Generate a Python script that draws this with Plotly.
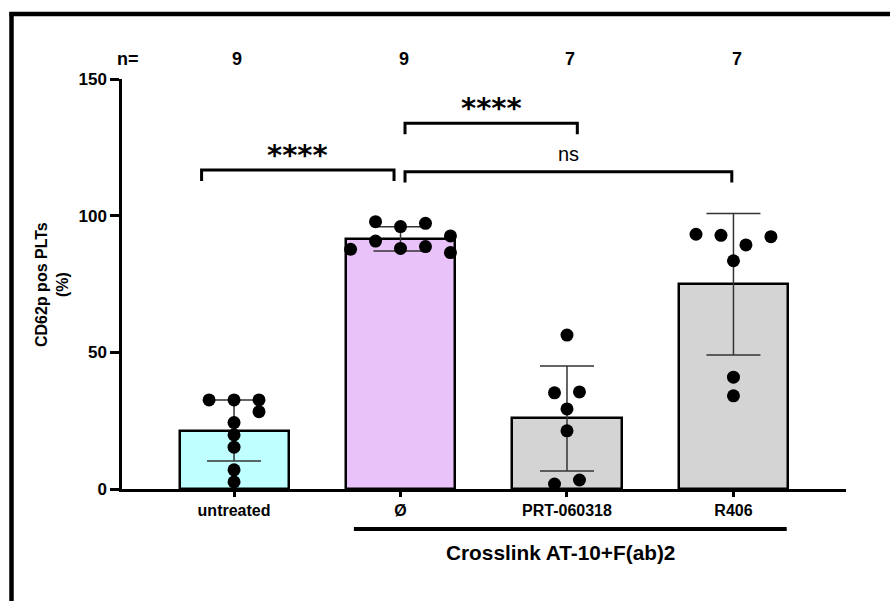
import plotly.graph_objects as go

# ---------------- data ----------------
categories = ["untreated", "Ø", "PRT-060318", "R406"]
n_counts = [9, 9, 7, 7]
bar_means = [21.4, 91.5, 25.8, 74.9]
bar_sd = [11.2, 4.4, 19.2, 25.9]

vals_untreated = [32.6, 32.6, 32.6, 28.3, 24.3, 19.8, 15.3, 7.0, 2.6]
vals_none = [97.8, 96.0, 97.2, 90.7, 87.7, 88.0, 88.7, 92.6, 86.5]
vals_prt = [56.3, 35.2, 35.5, 29.3, 21.3, 1.8, 3.3]
vals_r406 = [93.2, 92.8, 89.3, 92.3, 83.5, 40.9, 34.1]
group_values = [vals_untreated, vals_none, vals_prt, vals_r406]

# swarm slots (layout of dots within a column, in dot-spacing units)
slots_untreated = [-1, 0, 1, 1, 0, 0, 0, 0, 0]
slots_none = [-1, 0, 1, -1, -2, 0, 1, 2, 2]
slots_prt = [0, -0.5, 0.5, 0, 0, -0.5, 0.5]
slots_r406 = [-1.5, -0.5, 0.5, 1.5, 0, 0, 0]
group_slots = [slots_untreated, slots_none, slots_prt, slots_r406]

comparisons = [("****", 0, 1), ("****", 1, 2), ("ns", 1, 3)]
group_label = "Crosslink AT-10+F(ab)2"
y_title = "CD62p pos PLTs<br>(%)"
y_ticks = [0, 50, 100, 150]

# ---------------- style ----------------
FONT = "Arial, Liberation Sans, sans-serif"
bar_colors = ["#C0FFFF", "#E8C2F8", "#D4D4D4", "#D4D4D4"]
W, H = 890, 601
L, R, T, B = 122, 44, 79, 112
PW, PH = W - L - R, H - T - B
slot_unit = 0.15


def pxx(px):
    return (px - L) / PW


def pxy(py):
    return (H - B - py) / PH


fig = go.Figure()

xs = list(range(len(categories)))
fig.add_trace(go.Bar(
    x=xs, y=bar_means, width=0.655,
    marker=dict(color=bar_colors, line=dict(color="black", width=2.5)),
    error_y=dict(type="data", array=bar_sd, visible=True,
                 color="#333333", thickness=1.5, width=27),
    showlegend=False, hoverinfo="skip",
))

for i, (vals, slots) in enumerate(zip(group_values, group_slots)):
    fig.add_trace(go.Scatter(
        x=[i + s * slot_unit for s in slots], y=vals, mode="markers",
        marker=dict(color="black", size=13, line=dict(width=0)),
        showlegend=False, hoverinfo="skip", cliponaxis=False,
    ))

# significance brackets
bracket_ends = [(-0.195, 0.961), (1.027, 2.062), (1.027, 2.99)]
bracket_y = [116.7, 133.8, 116.1]
bracket_drop = 4.0
for (label, a, b), (x0, x1), yb in zip(comparisons, bracket_ends, bracket_y):
    xa = a + (x0 - round(x0))
    xb = b + (x1 - round(x1))
    fig.add_shape(type="path",
                  path=f"M {xa},{yb - bracket_drop} L {xa},{yb} L {xb},{yb} L {xb},{yb - bracket_drop}",
                  xref="x", yref="y", line=dict(color="black", width=3))
    if label == "ns":
        fig.add_annotation(x=(xa + xb) / 2, y=yb, xref="x", yref="y",
                           text=label, showarrow=False, yanchor="bottom",
                           yshift=5,
                           font=dict(family=FONT, size=20, color="black"))
    else:
        fig.add_annotation(x=(xa + xb) / 2, y=yb, xref="x", yref="y",
                           text=label, showarrow=False, yanchor="bottom",
                           yshift=-4,
                           font=dict(family="DejaVu Sans", size=29, color="black",
                                     weight="bold"))

# n= row
fig.add_annotation(x=-0.638, y=pxy(47.5), xref="x", yref="paper", text="n=",
                   showarrow=False, font=dict(family=FONT, size=18, color="black", weight="bold"))
for i, n in enumerate(n_counts):
    fig.add_annotation(x=i + 0.02, y=pxy(47.5), xref="x", yref="paper", text=str(n),
                       showarrow=False, font=dict(family=FONT, size=18, color="black", weight="bold"))

# group underline + label
fig.add_shape(type="line", x0=0.72, x1=3.32, y0=pxy(529), y1=pxy(529),
              xref="x", yref="paper", line=dict(color="black", width=4))
fig.add_annotation(x=pxx(560), y=pxy(566), xref="paper", yref="paper",
                   text=group_label, showarrow=False,
                   font=dict(family=FONT, size=20.8, color="black", weight="bold"))

# y title
fig.add_annotation(x=pxx(31), y=0.5, xref="paper", yref="paper", text=y_title,
                   textangle=-90, showarrow=False,
                   font=dict(family=FONT, size=16, color="black", weight="bold"))

# frame
fig.add_shape(type="line", xref="paper", yref="paper",
              x0=pxx(9.5), x1=pxx(900), y0=pxy(14), y1=pxy(14),
              line=dict(color="black", width=4.5))
fig.add_shape(type="line", xref="paper", yref="paper",
              x0=pxx(11.5), x1=pxx(11.5), y0=pxy(12), y1=pxy(620),
              line=dict(color="black", width=4.5))

fig.update_layout(
    width=W, height=H, margin=dict(l=L, r=R, t=T, b=B),
    paper_bgcolor="white", plot_bgcolor="white",
    font=dict(family=FONT, color="black"),
    bargap=0,
    xaxis=dict(range=[-0.673, 3.676], tickmode="array", tickvals=xs,
               ticktext=categories, showgrid=False, zeroline=False,
               showline=True, linecolor="black", linewidth=2.5,
               ticks="outside", ticklen=5, tickwidth=2.5, tickcolor="black",
               tickfont=dict(family=FONT, size=16, color="black", weight="bold")),
    yaxis=dict(range=[0, 150], tickmode="array", tickvals=y_ticks,
               showgrid=False, zeroline=False,
               showline=True, linecolor="black", linewidth=2.5,
               ticks="outside", ticklen=9, tickwidth=2.5, tickcolor="black",
               tickfont=dict(family=FONT, size=17, color="black", weight="bold")),
)

fig.write_html("out.html")
